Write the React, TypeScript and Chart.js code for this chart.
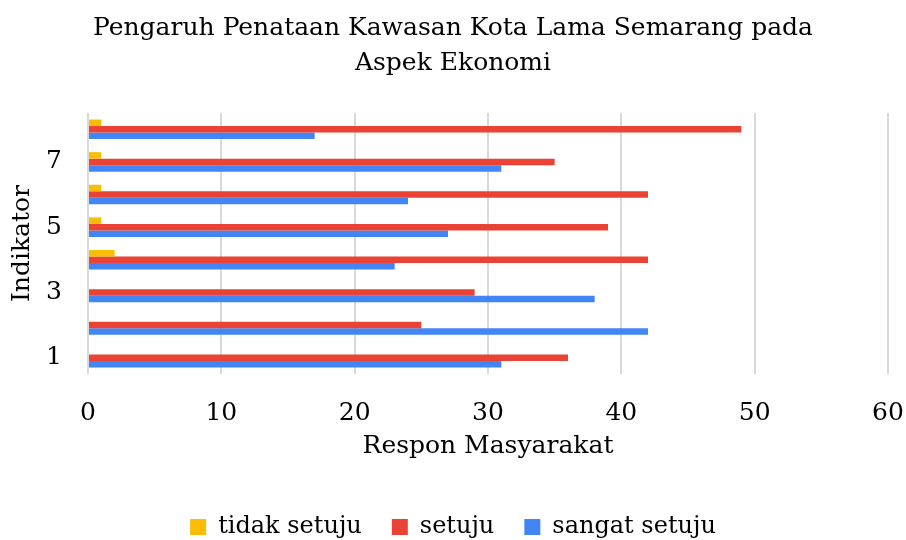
import React, { useEffect, useRef } from "react";
import { Chart, registerables } from "chart.js";

Chart.register(...registerables);

const titleLines = ["Pengaruh Penataan Kawasan Kota Lama Semarang pada", "Aspek Ekonomi"];
const categories = ["1", "2", "3", "4", "5", "6", "7", "8"];
const tidakSetuju = [0, 0, 0, 2, 1, 1, 1, 1];
const setuju = [36, 25, 29, 42, 39, 42, 35, 49];
const sangatSetuju = [31, 42, 38, 23, 27, 24, 31, 17];
const seriesNames = ["tidak setuju", "setuju", "sangat setuju"];
const seriesColors = ["#FBBC04", "#EA4335", "#4285F4"];
const xTitle = "Respon Masyarakat";
const yTitle = "Indikator";

const FONT = "'DejaVu Serif', serif";

export default function App() {
  const ref = useRef<HTMLCanvasElement | null>(null);
  useEffect(() => {
    if (!ref.current) return;
    const chart = new Chart(ref.current, {
      type: "bar",
      data: {
        labels: categories,
        datasets: [tidakSetuju, setuju, sangatSetuju].map((d, i) => ({
          label: seriesNames[i],
          data: d,
          backgroundColor: seriesColors[i],
          borderWidth: 0,
          barPercentage: 1,
          categoryPercentage: 0.6,
        })),
      },
      options: {
        animation: false,
        responsive: false,
        indexAxis: "y",
        layout: { padding: { left: 0, right: 0, top: 0, bottom: -9 } },
        plugins: {
          title: {
            display: true,
            text: titleLines,
            color: "#000",
            font: { family: FONT, size: 25, weight: "normal", lineHeight: 1.4 },
            padding: { top: 11, bottom: 32 },
          },
          legend: {
            position: "bottom",
            labels: {
              color: "#000",
              boxWidth: 16,
              boxHeight: 16,
              padding: 30,
              font: { family: FONT, size: 24 },
            },
          },
          tooltip: { enabled: false },
        },
        scales: {
          x: {
            min: 0,
            max: 60,
            ticks: { stepSize: 10, color: "#000", padding: 24, font: { family: FONT, size: 25 } },
            grid: { color: "#d9d9d9", lineWidth: 2, drawTicks: false },
            border: { display: false },
            title: { display: true, text: xTitle, color: "#000", font: { family: FONT, size: 25 }, padding: { top: 0, bottom: 24 } },
            afterFit: (s: any) => {
              s.height = 111;
              s.paddingRight = 18;
              s.paddingLeft = 12;
            },
          },
          y: {
            reverse: true,
            ticks: {
              color: "#000",
              padding: 26,
              autoSkip: false,
              font: { family: FONT, size: 25 },
              callback: (_v: any, i: number) => (i % 2 === 0 ? categories[i] : ""),
            },
            grid: { display: false, drawTicks: false },
            border: { display: false },
            title: { display: true, text: yTitle, color: "#000", font: { family: FONT, size: 25 }, padding: { top: 7, bottom: 0 } },
            afterFit: (s: any) => { s.width = 88; },
          },
        },
      },
    });
    return () => chart.destroy();
  }, []);
  return (
    <div style={{ position: "absolute", left: 0, top: 0, width: 906, height: 540, background: "#fff" }}>
      <canvas ref={ref} width={906} height={540} style={{ width: 906, height: 540 }} />
    </div>
  );
}
